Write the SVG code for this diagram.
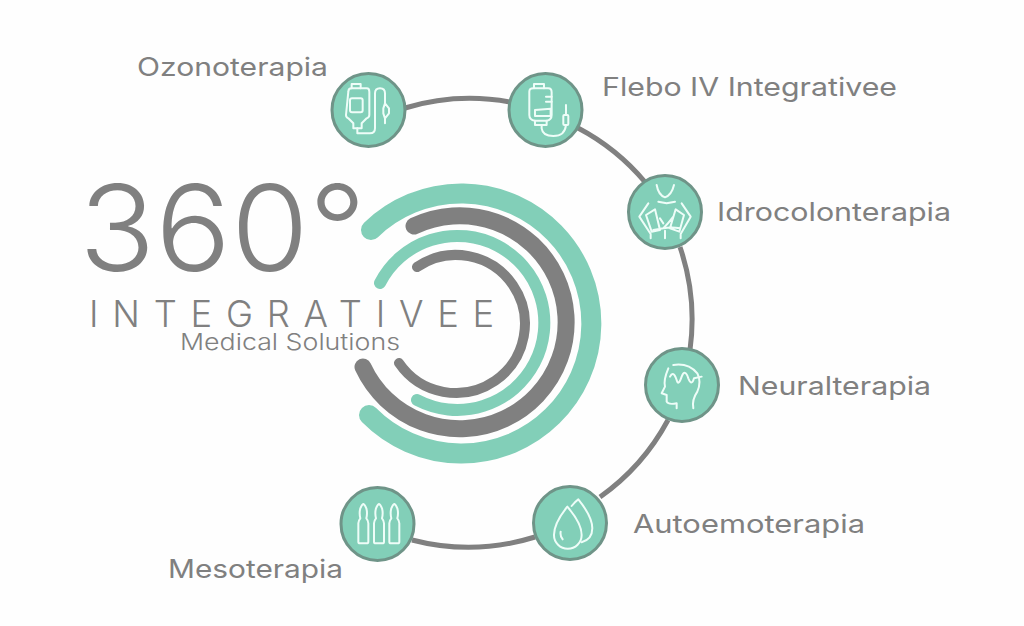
<svg xmlns="http://www.w3.org/2000/svg" width="1024" height="626" viewBox="0 0 1024 626">
<style>
text{font-family:"Inter","Liberation Sans",sans-serif;fill:#808080}
.l{font-size:25.5px;font-weight:400}
.c{fill:none;stroke:#808080;stroke-width:5}
.n{fill:#82cfb8;stroke:#6f9488;stroke-width:3}
.i{fill:none;stroke:#eefdf8;stroke-width:6;stroke-linecap:round;stroke-linejoin:round}
.a{fill:none;stroke-linecap:round}
.t{stroke:#82cfb8}
.g{stroke:#808080}
</style>
<defs>
<g id="amp"><path d="M-15 130Q-15 122-9 115Q-13 100-9 85Q-4 73 0 72Q4 73 9 85Q13 100 9 115Q15 122 15 130V185Q15 190 10 190H-10Q-15 190-15 185Z"/></g>
</defs>
<rect width="1024" height="626" fill="#fefefe"/>
<g id="connectors">
<path class="c" d="M405 108A224 224 0 0 1 510 102"/>
<path class="c" d="M578 128A224 224 0 0 1 645 182"/>
<path class="c" d="M680 247A224 224 0 0 1 690 350"/>
<path class="c" d="M668 420A224 224 0 0 1 600 497"/>
<path class="c" d="M535 537A224 224 0 0 1 412 540"/>
</g>
<g id="rings">
<path class="a t" stroke-width="20" d="M371 230A130 130 0 1 1 369 415"/>
<path class="a g" stroke-width="17" d="M414 226A106.500 106.500 0 1 1 363 367"/>
<path class="a t" stroke-width="12" d="M380 283A87 87 0 1 1 417 400"/>
<path class="a g" stroke-width="10" d="M417 267A69 69 0 1 1 399 363"/>
</g>
<g id="title">
<text x="79" y="271" font-size="120" font-weight="300" textLength="287" lengthAdjust="spacingAndGlyphs">360°</text>
<text x="89" y="327" font-size="37" font-weight="300" letter-spacing="14" textLength="419" lengthAdjust="spacingAndGlyphs">INTEGRATIVEE</text>
<text x="180" y="350" font-size="23" font-weight="300" textLength="220" lengthAdjust="spacingAndGlyphs">Medical Solutions</text>
</g>
<g id="ozonoterapia">
<circle class="n" cx="368.500" cy="110" r="36.500"/>
<g class="i" transform="translate(320 60) scale(.3333)">
<path d="M85 95Q85 85 95 85H140Q148 85 148 95V165Q148 172 140 175L125 190V205H100V190L85 175Q78 172 78 165Z"/>
<rect x="90" y="115" width="38" height="42" rx="6"/>
<path d="M95 85V72H122V85M112 205V220H150Q165 220 165 205V100Q165 85 180 85Q195 85 195 100V130M195 175V190"/>
<path d="M195 130L207 145V160L195 175L190 160V145Z"/>
</g>
<text class="l" x="137" y="76" textLength="191" lengthAdjust="spacingAndGlyphs">Ozonoterapia</text>
</g>
<g id="flebo">
<circle class="n" cx="545.500" cy="110" r="36.500"/>
<g class="i" transform="translate(320 60) scale(.3333)">
<path d="M628 95Q628 85 640 85H685Q695 85 695 97V165Q695 180 680 182H645Q628 180 628 165Z"/>
<path d="M642 85V72H672V85M645 182V195H680V182M678 110H695M678 125H695M645 150L692 146V168H645ZM665 195V205Q668 228 700 228Q735 228 738 195M738 165V135"/>
<rect x="730" y="165" width="15" height="30" rx="3"/>
</g>
<text class="l" x="602" y="96" textLength="295" lengthAdjust="spacingAndGlyphs">Flebo IV Integrativee</text>
</g>
<g id="idrocolonterapia">
<circle class="n" cx="665" cy="212" r="36.500"/>
<g class="i" transform="translate(610 160) scale(.3333)">
<path d="M140 75Q145 105 165 112Q185 105 192 75M115 130L88 170L122 222M215 130L242 170L212 222M108 165L135 148L150 210L125 215ZM222 165L197 148L180 205L208 215ZM145 125L170 130L195 125M150 175L160 190M190 170Q175 190 160 205L130 210M210 205Q185 200 160 205M165 212V235M122 222V235M212 222V235"/>
</g>
<text class="l" x="717" y="221" textLength="234" lengthAdjust="spacingAndGlyphs">Idrocolonterapia</text>
</g>
<g id="neuralterapia">
<circle class="n" cx="682" cy="385" r="36.500"/>
<g class="i" transform="translate(610 160) scale(.3333)">
<path d="M175 625Q160 660 165 680L155 700L170 705V725Q175 735 200 730V745M250 745Q245 720 262 695Q275 665 262 640Q235 608 190 615"/>
<path d="M180 650Q190 630 200 660Q205 680 215 650Q225 625 235 655Q245 680 252 655L275 650"/>
</g>
<text class="l" x="738" y="395" textLength="193" lengthAdjust="spacingAndGlyphs">Neuralterapia</text>
</g>
<g id="autoemoterapia">
<circle class="n" cx="570" cy="523" r="36.500"/>
<g class="i" transform="translate(330 480) scale(.3333)">
<path d="M712 80Q672 130 672 165A41 41 0 0 0 755 165Q755 130 712 80Z"/>
<path d="M725 78Q735 65 745 58Q787 110 787 145Q787 178 755 187M692 155Q690 170 698 178"/>
</g>
<text class="l" x="633" y="533" textLength="232" lengthAdjust="spacingAndGlyphs">Autoemoterapia</text>
</g>
<g id="mesoterapia">
<circle class="n" cx="377.500" cy="524" r="36.500"/>
<g class="i" transform="translate(330 480) scale(.3333)">
<use href="#amp" x="100"/><use href="#amp" x="147"/><use href="#amp" x="193"/>
</g>
<text class="l" x="168" y="578" textLength="175" lengthAdjust="spacingAndGlyphs">Mesoterapia</text>
</g>
</svg>
